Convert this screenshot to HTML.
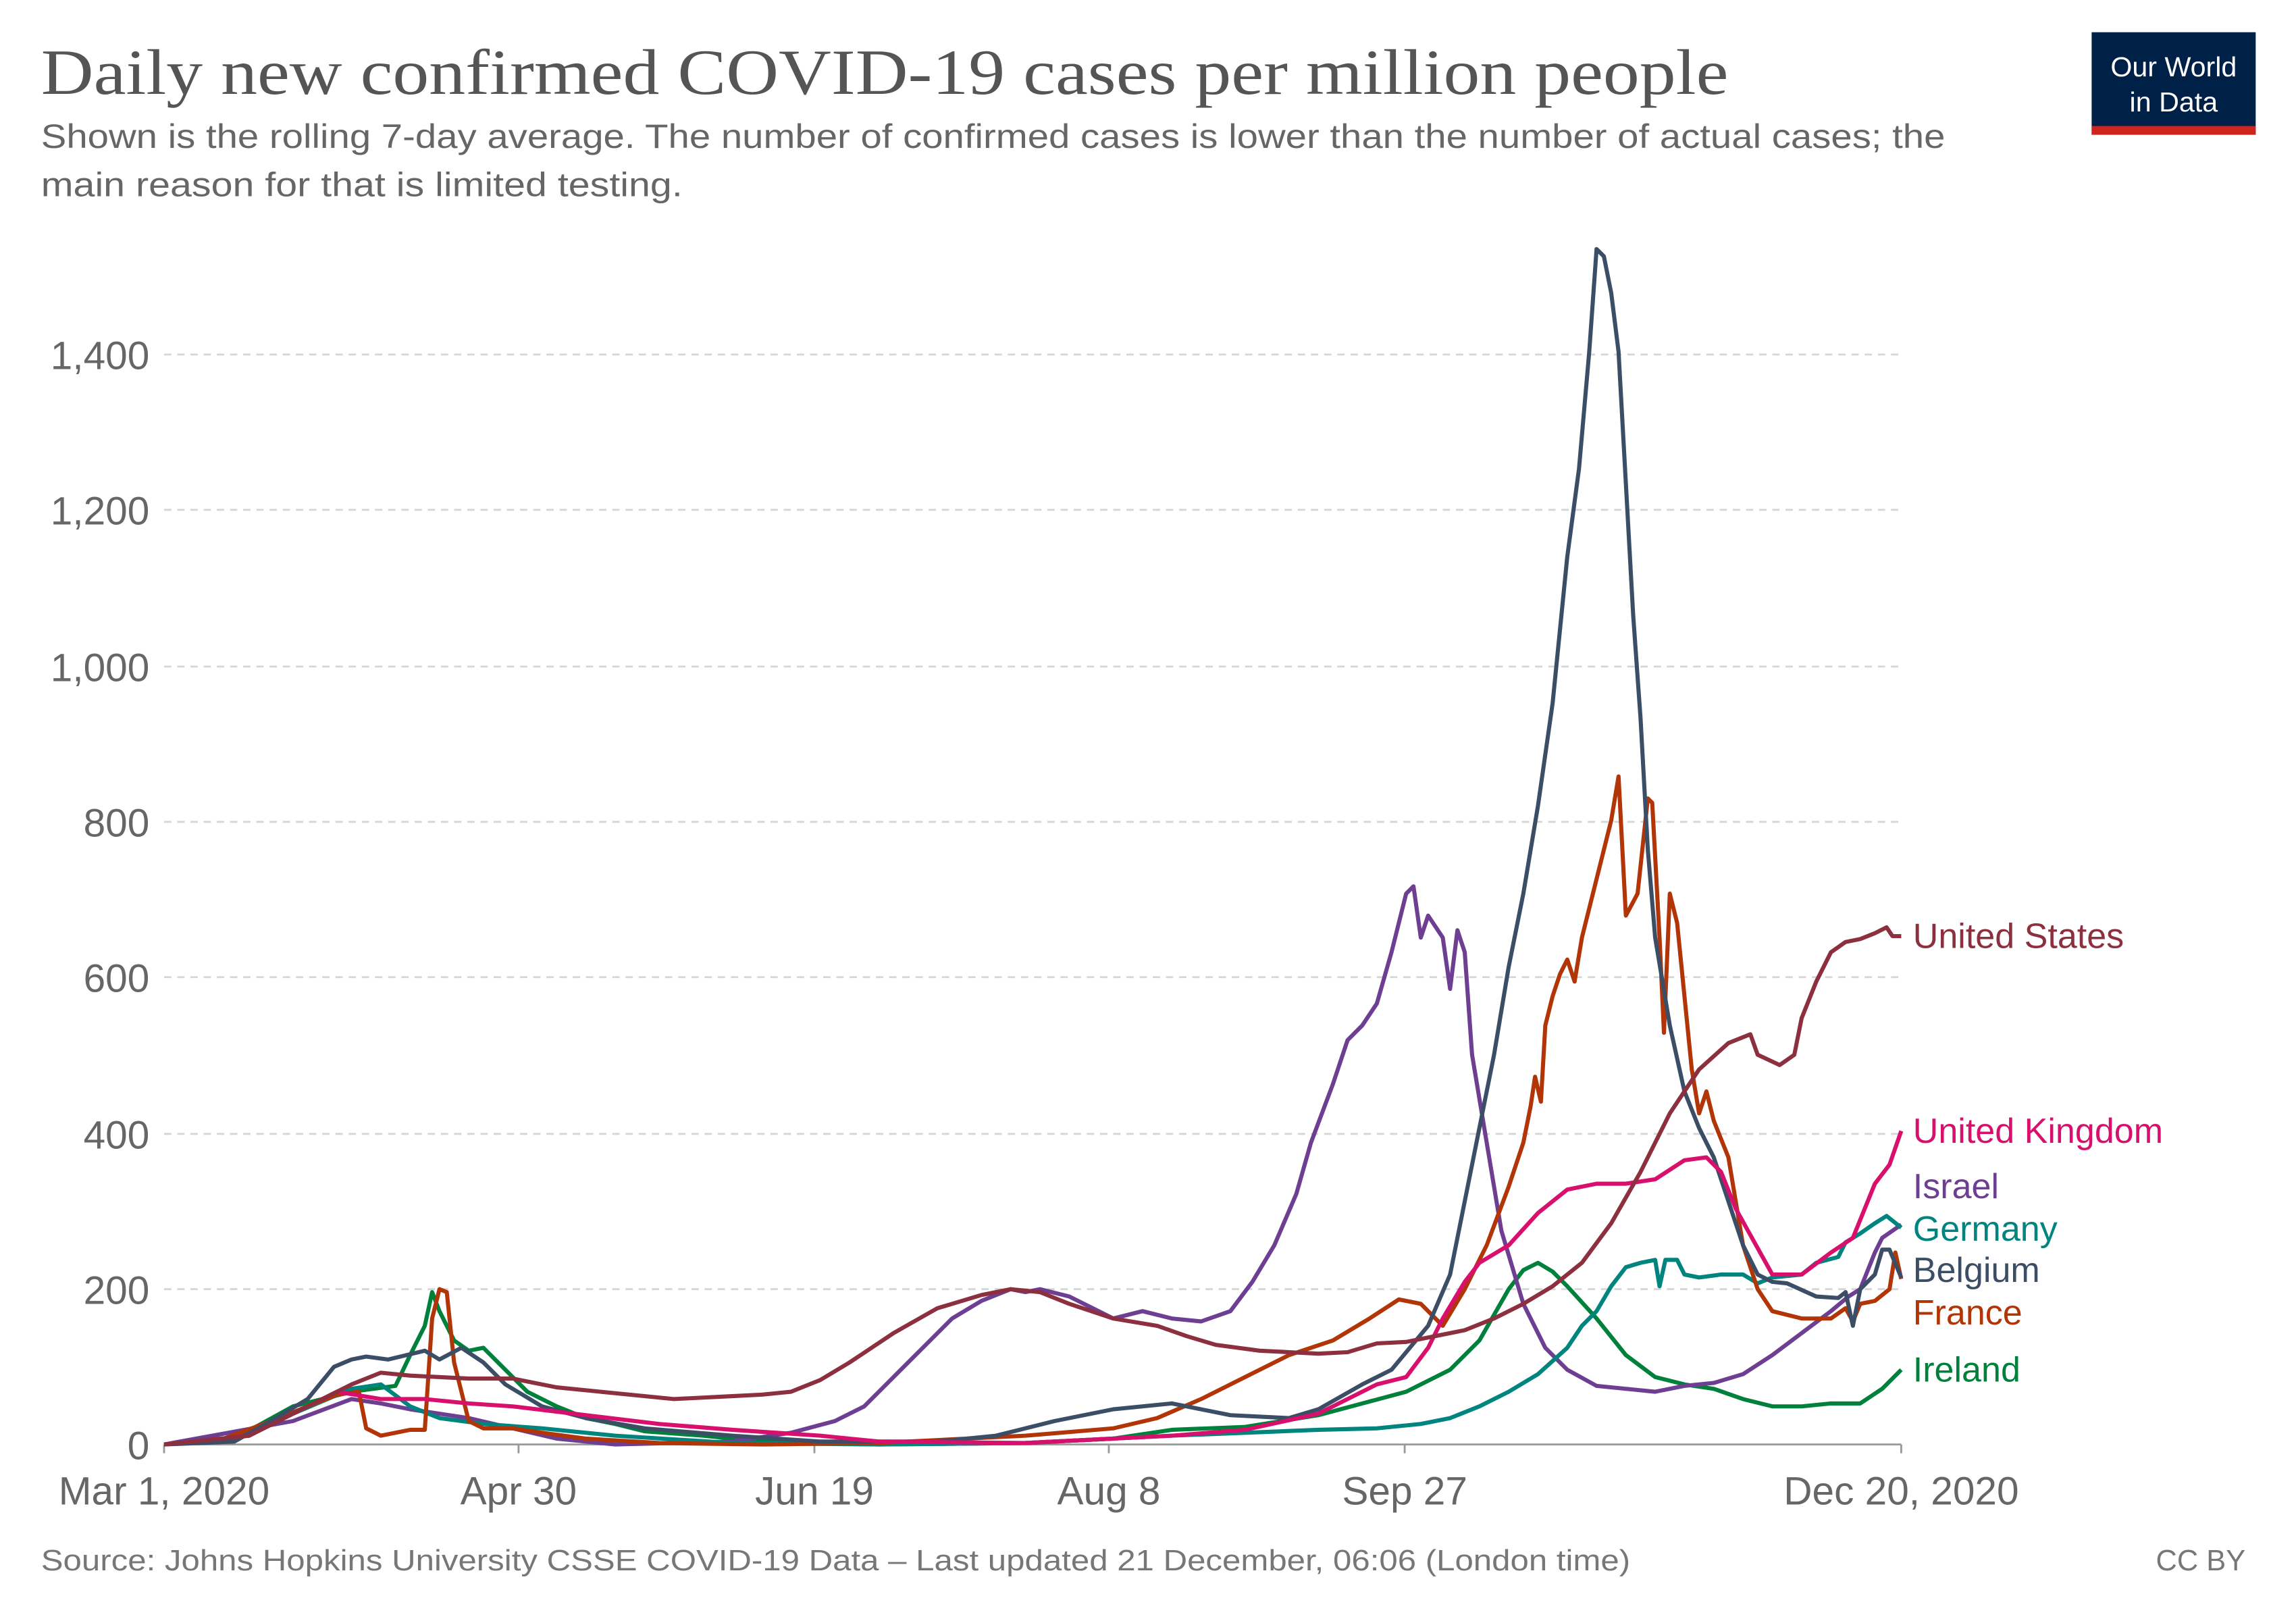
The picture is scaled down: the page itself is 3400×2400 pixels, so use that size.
<!DOCTYPE html>
<html><head><meta charset="utf-8"><style>
html,body{margin:0;padding:0;background:#fff;}
svg{display:block;}
text{font-family:"Liberation Sans",sans-serif;}
</style></head><body>
<svg width="3400" height="2400" viewBox="0 0 1567.5 1106.5" xmlns="http://www.w3.org/2000/svg">
<rect width="1567.5" height="1106.5" fill="#fff"/>
<text x="28" y="64" style="font-family:'Liberation Serif',serif" font-size="44" fill="#555" textLength="1152" lengthAdjust="spacingAndGlyphs">Daily new confirmed COVID-19 cases per million people</text>
<text x="28" y="101" font-size="23" fill="#666" textLength="1300" lengthAdjust="spacingAndGlyphs">Shown is the rolling 7-day average. The number of confirmed cases is lower than the number of actual cases; the</text>
<text x="28" y="134" font-size="23" fill="#666" textLength="438" lengthAdjust="spacingAndGlyphs">main reason for that is limited testing.</text>
<rect x="1428" y="22" width="112" height="70" fill="#002147"/>
<rect x="1428" y="86" width="112" height="6" fill="#ce261e"/>
<text x="1484" y="52" font-size="19" fill="#fff" text-anchor="middle">Our World</text>
<text x="1484" y="76" font-size="19" fill="#fff" text-anchor="middle">in Data</text>
<g stroke="#d6d6d6" stroke-width="1.3" stroke-dasharray="5,4">
<line x1="112" x2="1298" y1="880" y2="880"/><line x1="112" x2="1298" y1="774" y2="774"/>
<line x1="112" x2="1298" y1="667" y2="667"/><line x1="112" x2="1298" y1="561" y2="561"/>
<line x1="112" x2="1298" y1="455" y2="455"/><line x1="112" x2="1298" y1="348" y2="348"/>
<line x1="112" x2="1298" y1="242" y2="242"/>
</g>
<line x1="112" x2="1298" y1="986" y2="986" stroke="#999" stroke-width="1.3"/>
<g font-size="27" fill="#666" text-anchor="end">
<text x="102" y="996">0</text><text x="102" y="890">200</text><text x="102" y="784">400</text>
<text x="102" y="677">600</text><text x="102" y="571">800</text><text x="102" y="465">1,000</text>
<text x="102" y="358">1,200</text><text x="102" y="252">1,400</text>
</g>
<g stroke="#999" stroke-width="1.3">
<line x1="112" x2="112" y1="986" y2="992"/><line x1="354" x2="354" y1="986" y2="992"/>
<line x1="556" x2="556" y1="986" y2="992"/><line x1="757" x2="757" y1="986" y2="992"/>
<line x1="959" x2="959" y1="986" y2="992"/><line x1="1298" x2="1298" y1="986" y2="992"/>
</g>
<g font-size="27" fill="#666" text-anchor="middle">
<text x="112" y="1027">Mar 1, 2020</text><text x="354" y="1027">Apr 30</text><text x="556" y="1027">Jun 19</text>
<text x="757" y="1027">Aug 8</text><text x="959" y="1027">Sep 27</text><text x="1298" y="1027">Dec 20, 2020</text>
</g>
<g fill="none" stroke-width="2.8" stroke-linejoin="round">
<polyline stroke="#00813b" points="112,986 160,982 200,960 240,950 270,946 280,925 290,905 295,882 300,895 310,915 320,922 330,920 340,930 350,940 360,950 380,960 400,968 420,972 440,977 480,980 520,984 600,986 700,985 760,982 800,976 850,974 900,966 930,958 960,950 990,935 1010,915 1030,880 1040,867 1050,862 1060,868 1070,878 1090,900 1110,925 1130,940 1150,945 1170,948 1190,955 1210,960 1230,960 1250,958 1270,958 1285,948 1298,935"/>
<polyline stroke="#6d3e91" points="112,986 200,970 240,955 260,958 280,962 320,968 350,975 380,982 420,986 500,984 540,978 570,970 590,960 610,940 630,920 650,900 670,888 690,880 700,882 710,880 730,885 750,895 760,900 780,895 800,900 820,902 840,895 855,875 870,850 885,815 895,780 910,740 920,710 930,700 940,685 950,650 960,610 965,605 970,640 975,625 985,640 990,675 995,635 1000,650 1005,720 1015,780 1025,840 1040,890 1055,920 1070,935 1090,946 1110,948 1130,950 1150,946 1170,944 1190,938 1210,925 1230,910 1250,895 1262,885 1270,880 1280,855 1285,845 1298,836"/>
<polyline stroke="#00847e" points="112,986 170,980 200,965 240,948 260,945 280,960 300,968 330,972 370,975 420,980 500,985 600,986 700,985 760,982 800,980 850,978 900,976 940,975 970,972 990,968 1010,960 1030,950 1050,938 1070,920 1080,905 1090,895 1100,878 1110,865 1120,862 1130,860 1133,878 1137,860 1145,860 1150,870 1160,872 1175,870 1190,870 1200,876 1210,872 1230,870 1240,862 1255,858 1260,848 1270,842 1280,835 1288,830 1298,838"/>
<polyline stroke="#b13507" points="112,986 150,983 180,972 200,964 230,952 245,950 250,975 260,980 280,976 290,976 295,900 300,880 305,882 310,930 315,950 320,970 330,975 350,975 370,978 400,982 450,985 520,986 600,985 700,980 760,975 790,968 820,955 850,940 880,925 910,915 935,900 955,887 970,890 985,905 1000,880 1015,850 1030,810 1040,780 1045,755 1048,735 1052,752 1055,700 1060,680 1065,665 1070,655 1075,670 1080,640 1090,600 1095,580 1100,560 1105,530 1110,625 1118,610 1125,545 1128,548 1133,640 1136,705 1140,610 1145,630 1150,680 1155,730 1160,760 1165,745 1170,765 1180,790 1190,850 1200,880 1210,895 1230,900 1250,900 1260,893 1265,902 1270,890 1280,888 1290,880 1294,855 1298,873"/>
<polyline stroke="#3c4e66" points="112,986 160,984 185,970 210,955 228,933 240,928 250,926 265,928 290,922 300,928 315,920 330,930 345,945 370,960 400,968 440,975 500,980 560,984 640,984 680,980 720,970 760,962 800,958 840,966 880,968 900,962 930,945 950,935 975,905 990,870 1000,820 1010,770 1020,720 1030,660 1040,610 1050,550 1060,480 1070,380 1078,320 1085,240 1090,170 1095,175 1100,200 1105,240 1110,330 1115,420 1120,490 1125,580 1130,640 1140,700 1150,745 1160,770 1170,790 1180,820 1190,850 1200,870 1210,875 1220,876 1240,885 1255,886 1260,882 1265,905 1270,880 1280,870 1285,853 1290,853 1298,872"/>
<polyline stroke="#d80f6c" points="112,986 170,980 200,965 230,950 260,955 290,955 320,958 350,960 400,966 450,972 500,976 560,980 600,984 700,985 760,982 800,980 850,976 900,965 940,945 960,940 975,920 985,900 1000,875 1010,862 1030,850 1050,828 1070,812 1090,808 1110,808 1130,805 1150,792 1165,790 1175,800 1185,825 1200,852 1210,870 1230,870 1250,855 1265,845 1280,808 1290,795 1298,772"/>
<polyline stroke="#8c2f3e" points="112,986 170,980 210,960 240,945 260,937 280,939 320,941 350,941 380,947 420,951 460,955 500,953 520,952 540,950 560,942 580,930 610,910 640,893 670,884 690,880 710,882 730,890 760,900 790,905 810,912 830,918 860,922 880,923 900,924 920,923 940,917 960,916 980,912 1000,908 1020,900 1040,890 1060,878 1080,862 1100,835 1120,800 1140,760 1160,730 1180,712 1195,706 1200,720 1215,727 1225,720 1230,695 1240,670 1250,650 1260,643 1270,641 1280,637 1288,633 1292,639 1298,639"/>
</g>
<g font-size="24">
<text x="1306" y="647" fill="#8c2f3e">United States</text>
<text x="1306" y="780" fill="#d80f6c">United Kingdom</text>
<text x="1306" y="818" fill="#6d3e91">Israel</text>
<text x="1306" y="847" fill="#00847e">Germany</text>
<text x="1306" y="875" fill="#3c4e66">Belgium</text>
<text x="1306" y="904" fill="#b13507">France</text>
<text x="1306" y="943" fill="#00813b">Ireland</text>
</g>
<text x="28" y="1072" font-size="20" fill="#777" textLength="1085" lengthAdjust="spacingAndGlyphs">Source: Johns Hopkins University CSSE COVID-19 Data – Last updated 21 December, 06:06 (London time)</text>
<text x="1533" y="1072" font-size="20" fill="#777" text-anchor="end">CC BY</text>
</svg>
</body></html>
